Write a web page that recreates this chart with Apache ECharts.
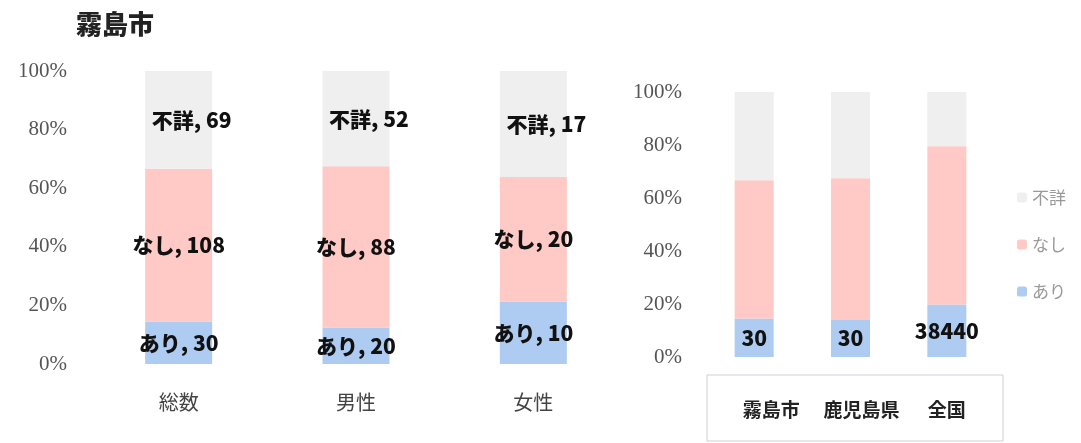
<!DOCTYPE html>
<html lang="ja">
<head>
    <meta charset="UTF-8" />
    <title>霧島市</title>
    <style>
        html, body { margin: 0; padding: 0; background: #fff; }
        #chart { width: 1081px; height: 443px; }
    </style>
</head>
<body>
    <div id="chart"></div>
</body>
<script type="text/javascript" src="https://cdn.jsdelivr.net/npm/echarts@6/dist/echarts.min.js"></script>
<script type="text/javascript">
    // 左：霧島市の内訳
    var leftCats = ['総数', '男性', '女性'];
    var leftAri = [30, 20, 10];
    var leftNashi = [108, 88, 20];
    var leftFusho = [69, 52, 17];

    // 右：比較
    var rightCats = ['霧島市', '鹿児島県', '全国'];
    var rightAri = [30, 30, 38440];
    var rightNashi = [108, 115, 116000];
    var rightFusho = [69, 70, 39800];

    var yTicks = ['0%', '20%', '40%', '60%', '80%', '100%'];
    var seriesNames = ['あり', 'なし', '不詳'];
    var colors = ['#aecbf2', '#ffc9c5', '#efefef'];

    // 各系列を百分率に変換
    function toPct(arrs, k) {
        return arrs[k].map(function (v, i) {
            var total = arrs[0][i] + arrs[1][i] + arrs[2][i];
            return { value: v / total * 100, raw: v };
        });
    }

    var leftArrs = [leftAri, leftNashi, leftFusho];
    var rightArrs = [rightAri, rightNashi, rightFusho];

    var tickFont = {
        fontFamily: 'Liberation Serif',
        fontSize: 21,
        color: '#555'
    };
    var labelFont = {
        fontFamily: 'Noto Sans CJK JP',
        fontWeight: 900,
        fontSize: 21,
        color: '#111'
    };

    function yAxis(idx) {
        return {
            type: 'value',
            gridIndex: idx,
            min: 0,
            max: 100,
            interval: 20,
            axisLine: { show: false },
            axisTick: { show: false },
            splitLine: { show: false },
            axisLabel: Object.assign({
                margin: idx === 0 ? 23 : 24,
                formatter: function (v) { return yTicks[v / 20]; }
            }, tickFont)
        };
    }

    var series = [];
    seriesNames.forEach(function (name, k) {
        series.push({
            name: name,
            type: 'bar',
            stack: 'left',
            xAxisIndex: 0,
            yAxisIndex: 0,
            barWidth: 67,
            itemStyle: { color: colors[k] },
            data: toPct(leftArrs, k),
            label: Object.assign({
                show: true,
                position: 'inside',
                offset: k === 2 ? [13, 0] : [0, 0],
                formatter: function (p) { return name + ', ' + p.data.raw; }
            }, labelFont)
        });
        series.push({
            name: name,
            type: 'bar',
            stack: 'right',
            xAxisIndex: 1,
            yAxisIndex: 1,
            barWidth: 39,
            itemStyle: { color: colors[k] },
            data: toPct(rightArrs, k),
            label: Object.assign({
                show: k === 0,
                position: 'inside',
                formatter: function (p) { return String(p.data.raw); }
            }, labelFont)
        });
    });

    var myChart = echarts.init(document.getElementById('chart'));
    var option = {
        animation: false,
        title: {
            text: '霧島市',
            left: 71,
            top: 6,
            textStyle: {
                fontFamily: 'Noto Sans CJK JP',
                fontWeight: 900,
                fontSize: 26,
                color: '#222'
            }
        },
        legend: {
            orient: 'vertical',
            left: 1012,
            top: 184,
            itemWidth: 10,
            itemHeight: 10,
            itemGap: 30,
            data: ['不詳', 'なし', 'あり'],
            textStyle: {
                fontFamily: 'Noto Sans CJK JP',
                fontSize: 17,
                color: '#999'
            }
        },
        graphic: [{
            type: 'rect',
            shape: { x: 707, y: 375, width: 296, height: 66 },
            style: { fill: 'none', stroke: '#cfcfcf', lineWidth: 1 }
        }],
        grid: [
            { left: 90, right: 459, top: 71, bottom: 79 },
            { left: 706, right: 86, top: 92, bottom: 86 }
        ],
        xAxis: [
            {
                type: 'category',
                gridIndex: 0,
                data: leftCats,
                axisLine: { show: false },
                axisTick: { show: false },
                axisLabel: {
                    margin: 28,
                    fontFamily: 'Noto Sans CJK JP',
                    fontSize: 20,
                    color: '#444'
                }
            },
            {
                type: 'category',
                gridIndex: 1,
                data: [
                    { value: rightCats[0], textStyle: { padding: [0, 0, 0, 34] } },
                    { value: rightCats[1], textStyle: { padding: [0, 0, 0, 22] } },
                    { value: rightCats[2], textStyle: { padding: [0, 0, 0, 0] } }
                ],
                axisLine: { show: false },
                axisTick: { show: false },
                axisLabel: {
                    interval: 0,
                    hideOverlap: false,
                    margin: 43,
                    fontFamily: 'Noto Sans CJK JP',
                    fontWeight: 'bold',
                    fontSize: 19,
                    color: '#222'
                }
            }
        ],
        yAxis: [yAxis(0), yAxis(1)],
        series: series
    };
    myChart.setOption(option);
</script>
</html>
